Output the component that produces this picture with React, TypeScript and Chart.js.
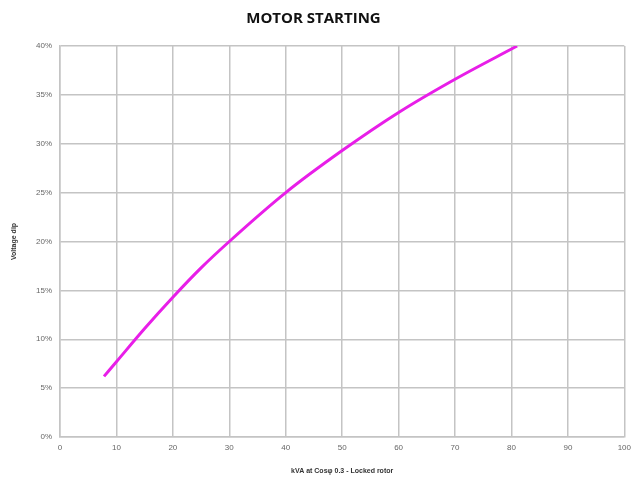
import React, { useEffect, useRef } from "react";
import { Chart, registerables } from "chart.js";
Chart.register(...registerables);

const kvaValues = [7.8, 10, 15, 20, 25, 30, 40, 50, 60, 70, 81.0];
const voltageDip = [6.2, 7.7, 11.1, 14.3, 17.3, 20.0, 25.0, 29.3, 33.2, 36.6, 40.0];
const chartTitle = "MOTOR STARTING";
const xTitle = "kVA at Cosφ 0.3 - Locked rotor";
const yTitle = "Voltage dip";

export default function App() {
  const ref = useRef<HTMLCanvasElement | null>(null);
  useEffect(() => {
    if (!ref.current) return;
    const data = kvaValues.map((x, i) => ({ x, y: voltageDip[i] }));
    const chart = new Chart(ref.current, {
      type: "scatter",
      data: {
        datasets: [
          {
            data,
            showLine: true,
            borderColor: "#e81ee8",
            borderWidth: 3,
            pointRadius: 0,
            cubicInterpolationMode: "monotone",
            fill: false,
          },
        ],
      },
      options: {
        animation: false,
        responsive: false,
        layout: { padding: { left: 0, right: 10, top: 0, bottom: 0 } },
        plugins: {
          legend: { display: false },
          tooltip: { enabled: false },
          title: {
            display: true,
            text: chartTitle,
            color: "#111",
            font: { family: "'Open Sans', sans-serif", size: 15, weight: "bold" },
            padding: { top: 10, bottom: 18 },
          },
        },
        scales: {
          x: {
            type: "linear",
            min: 0,
            max: 100,
            ticks: { stepSize: 10, color: "#666", font: { family: "Arial, sans-serif", size: 8 }, padding: 6, maxRotation: 0 },
            grid: { color: "#c4c4c4", lineWidth: 1.5, drawTicks: false },
            border: { color: "#c4c4c4", width: 1.5 },
            title: { display: true, text: xTitle, color: "#333", font: { family: "Arial, sans-serif", size: 7, weight: "bold" }, padding: { top: 12 } },
            afterFit: (s: any) => { s.height = 42; },
          },
          y: {
            min: 0,
            max: 40,
            ticks: { stepSize: 5, color: "#666", font: { family: "Arial, sans-serif", size: 8 }, padding: 8, callback: (v: any) => v + "%" },
            grid: { color: "#c4c4c4", lineWidth: 1.5, drawTicks: false },
            border: { color: "#c4c4c4", width: 1.5 },
            title: { display: true, text: yTitle, color: "#333", font: { family: "Arial, sans-serif", size: 7, weight: "bold" }, padding: { top: 10, bottom: 8 } },
            afterFit: (s: any) => { s.width = 60; },
          },
        },
      },
    });
    return () => chart.destroy();
  }, []);
  return (
    <div style={{ position: "fixed", left: 0, top: 0, width: 637, height: 479, background: "#fff" }}>
      <canvas ref={ref} width={637} height={479} />
    </div>
  );
}
